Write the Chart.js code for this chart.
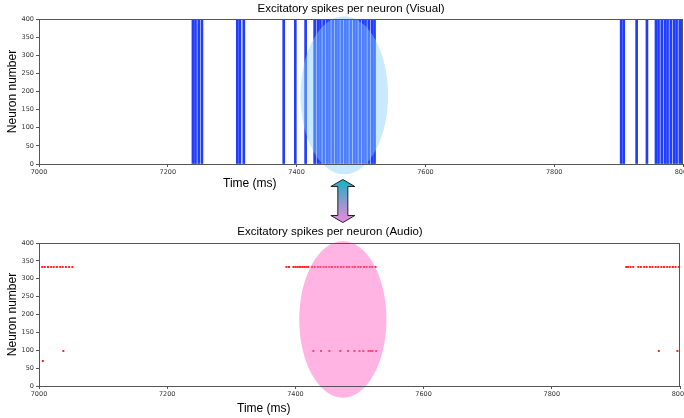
<!DOCTYPE html>
<html>
<head>
<meta charset="utf-8">
<script src="https://cdn.jsdelivr.net/npm/chart.js@4.4.0/dist/chart.umd.min.js"></script>
<style>
  html, body { margin: 0; padding: 0; background: #fff; }
  #wrap { position: relative; width: 684px; height: 418px; overflow: hidden; }
  #visual { position: absolute; left: 0; top: 0; }
  #audio { position: absolute; left: 0; top: 175px; }
</style>
</head>
<body>
<div id="wrap">
  <canvas id="visual" width="684" height="200"></canvas>
  <canvas id="audio" width="684" height="243"></canvas>
</div>
<script>
// tick labels
const xTicks = [7000, 7200, 7400, 7600, 7800, 8000];
const yTicks = [0, 50, 100, 150, 200, 250, 300, 350, 400];

// visual raster: every neuron fires together, so each spike time is a full-height line
const visualSpikeTimes = [7239, 7243, 7248, 7253, 7308, 7312, 7318, 7380, 7398, 7414,
    7428, 7433, 7437, 7442, 7447, 7451, 7456, 7461, 7465, 7470, 7475, 7479, 7484, 7489,
    7493, 7498, 7503, 7507, 7512, 7517, 7521,
    7904, 7908, 7928, 7944, 7958, 7962, 7967, 7972, 7976, 7981, 7986, 7990, 7995, 7999];
const visualNeuronCount = 400;

// audio raster
const audioTopNeuron = 333;
const audioTopTimes = [7000, 7005, 7009, 7014, 7019, 7023, 7028, 7033, 7037, 7042, 7047, 7052,
    7386, 7390, 7397, 7400, 7403, 7406, 7408, 7411, 7414, 7417, 7420, 7426, 7430, 7435, 7439,
    7444, 7448, 7453, 7457, 7462, 7466, 7471, 7475, 7480, 7484, 7489, 7493, 7498, 7502, 7507,
    7511, 7516, 7520, 7525,
    7916, 7919, 7923, 7927, 7935, 7939, 7944, 7948, 7953, 7957, 7962, 7966, 7971, 7975, 7980,
    7984, 7989, 7993, 7998];
const audioLowTimes = [7006, 7038, 7428, 7440, 7453, 7470, 7482, 7492, 7500, 7506, 7514, 7517, 7520, 7526, 7967, 7996];
const audioLowNeurons = [70, 98, 98, 98, 98, 98, 98, 98, 98, 98, 98, 98, 98, 98, 98, 98];

const TITLE_FONT = '"Liberation Sans", Arial, Helvetica, sans-serif';
const TICK_FONT = 'DejaVu Sans';

function xScale(height) {
    return {
        type: 'linear', min: 7000, max: 8000, offset: false,
        afterBuildTicks: s => { s.ticks = xTicks.map(v => ({ value: v })); },
        afterFit: s => { s.height = height; s.paddingLeft = 0; s.paddingRight = 0; },
        grid: { drawOnChartArea: false, drawTicks: true, tickLength: 3, tickColor: '#555', offset: false },
        border: { display: false },
        ticks: { font: { family: TICK_FONT, size: 6.5 }, color: '#333', padding: 1, maxRotation: 0,
                 autoSkip: false, callback: v => String(v) }
    };
}

function yScale() {
    return {
        min: 0, max: 400,
        afterBuildTicks: s => { s.ticks = yTicks.map(v => ({ value: v })); },
        afterFit: s => { s.width = 39; s.paddingTop = 0; s.paddingBottom = 0; },
        grid: { drawOnChartArea: false, drawTicks: true, tickLength: 3, tickColor: '#555' },
        border: { display: false },
        ticks: { font: { family: TICK_FONT, size: 6.5 }, color: '#333', padding: 2, callback: v => String(v) },
        title: { display: true, text: 'Neuron number', color: '#000',
                 font: { family: TITLE_FONT, size: 12 }, padding: { top: 5, bottom: 0 } }
    };
}

function drawArrow(ctx, cx, y0, y1) {
    const hw = 12, sw = 5, hl = 7;
    const g = ctx.createLinearGradient(0, y0, 0, y1);
    g.addColorStop(0, '#14b4c4');
    g.addColorStop(0.5, '#8a9ad0');
    g.addColorStop(1, '#ee88dc');
    ctx.beginPath();
    ctx.moveTo(cx, y0);
    ctx.lineTo(cx + hw, y0 + hl);
    ctx.lineTo(cx + sw, y0 + hl);
    ctx.lineTo(cx + sw, y1 - hl);
    ctx.lineTo(cx + hw, y1 - hl);
    ctx.lineTo(cx, y1);
    ctx.lineTo(cx - hw, y1 - hl);
    ctx.lineTo(cx - sw, y1 - hl);
    ctx.lineTo(cx - sw, y0 + hl);
    ctx.lineTo(cx - hw, y0 + hl);
    ctx.closePath();
    ctx.fillStyle = g;
    ctx.fill();
    ctx.strokeStyle = '#222';
    ctx.lineWidth = 1;
    ctx.stroke();
}

function decor(cfg) {
    return {
        id: 'decor',
        afterDraw(chart) {
            const { ctx, chartArea: a, scales } = chart;
            ctx.save();
            // highlight ellipse
            const e = cfg.ellipse;
            const cx = scales.x.getPixelForValue(e.t);
            const cy = scales.y.getPixelForValue(e.n);
            const rx = scales.x.getPixelForValue(e.t + e.dt) - cx;
            const ry = cy - scales.y.getPixelForValue(e.n + e.dn);
            ctx.fillStyle = e.color;
            ctx.beginPath();
            ctx.ellipse(cx, cy, rx, ry, 0, 0, Math.PI * 2);
            ctx.fill();
            // frame
            ctx.strokeStyle = '#555';
            ctx.lineWidth = 1;
            const l = Math.round(a.left) + 0.5, t = Math.round(a.top) + 0.5;
            ctx.strokeRect(l, t, Math.round(a.right) - Math.round(a.left) - 1, Math.round(a.bottom) - Math.round(a.top));
            // texts
            ctx.fillStyle = '#000';
            ctx.textBaseline = 'middle';
            ctx.textAlign = 'center';
            ctx.font = '11.5px ' + TITLE_FONT;
            ctx.fillText(cfg.title, cfg.titleX, cfg.titleY);
            ctx.textAlign = 'left';
            ctx.font = '12px ' + TITLE_FONT;
            ctx.fillText('Time (ms)', cfg.xLabelX, cfg.xLabelY);
            if (cfg.arrow) drawArrow(ctx, cx, cfg.arrow[0], cfg.arrow[1]);
            ctx.restore();
        }
    };
}

const common = {
    responsive: false,
    animation: false,
    plugins: { legend: { display: false }, tooltip: { enabled: false }, title: { display: false } }
};

new Chart(document.getElementById('visual'), {
    type: 'bar',
    data: {
        datasets: [{
            data: visualSpikeTimes.map(t => ({ x: t, y: visualNeuronCount })),
            backgroundColor: '#1f3cff',
            borderWidth: 0,
            barThickness: 2
        }]
    },
    options: {
        ...common,
        layout: { padding: { top: 19, right: 1, left: 0, bottom: 0 } },
        scales: { x: xScale(36), y: yScale() }
    },
    plugins: [decor({
        title: 'Excitatory spikes per neuron (Visual)', titleX: 351, titleY: 9,
        xLabelX: 223, xLabelY: 184,
        ellipse: { t: 7474, n: 189.5, dt: 68, dn: 218, color: 'rgba(135, 206, 250, 0.45)' }
    })]
});

new Chart(document.getElementById('audio'), {
    type: 'scatter',
    data: {
        datasets: [{
            data: audioTopTimes.map(t => ({ x: t, y: audioTopNeuron }))
                .concat(audioLowTimes.map((t, i) => ({ x: t, y: audioLowNeurons[i] }))),
            pointStyle: 'rect',
            pointRadius: 1.4,
            backgroundColor: '#ff2020',
            borderWidth: 0
        }]
    },
    options: {
        ...common,
        layout: { padding: { top: 68, right: 1, left: 0, bottom: 0 } },
        scales: { x: xScale(32), y: yScale() }
    },
    plugins: [decor({
        title: 'Excitatory spikes per neuron (Audio)', titleX: 330, titleY: 57,
        xLabelX: 237, xLabelY: 234,
        ellipse: { t: 7474, n: 186, dt: 68, dn: 218.7, color: 'rgba(255, 105, 200, 0.5)' },
        arrow: [4.5, 47.5]
    })]
});
</script>
</body>
</html>
